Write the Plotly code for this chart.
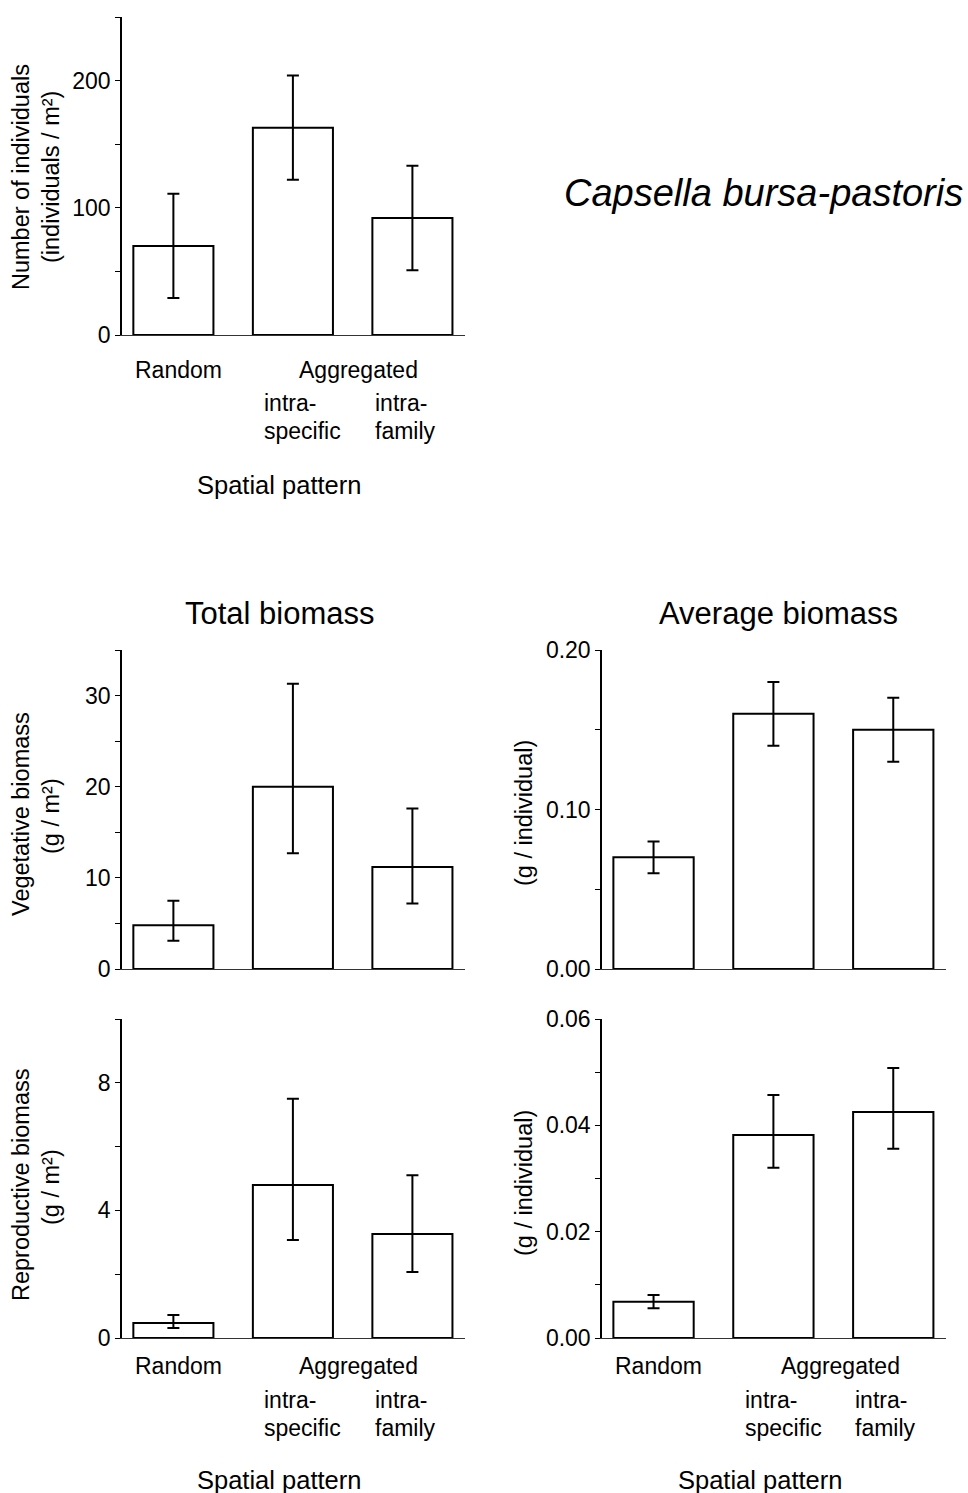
import plotly.graph_objects as go

W, H = 968, 1493

# ---------------- data ----------------
positions = [0, 1, 2]  # Random, Aggregated intra-specific, Aggregated intra-family

n_ind_mean = [70, 163, 92]
n_ind_upper = [111, 204, 133]
n_ind_lower = [29, 122, 51]

veg_total_mean = [4.8, 20.0, 11.2]
veg_total_upper = [7.5, 31.3, 17.6]
veg_total_lower = [3.1, 12.7, 7.2]

veg_avg_mean = [0.070, 0.160, 0.150]
veg_avg_upper = [0.080, 0.180, 0.170]
veg_avg_lower = [0.060, 0.140, 0.130]

rep_total_mean = [0.47, 4.8, 3.26]
rep_total_upper = [0.72, 7.5, 5.1]
rep_total_lower = [0.31, 3.07, 2.07]

rep_avg_mean = [0.0068, 0.0382, 0.0425]
rep_avg_upper = [0.0081, 0.0457, 0.0508]
rep_avg_lower = [0.0056, 0.0320, 0.0356]

FONT = "Liberation Sans, Arial, sans-serif"


def px_x(x):
    return x / W


def px_y(y):
    return 1 - y / H


fig = go.Figure()

panels = [
    # (axis suffix, mean, upper, lower, xdom px, ydom px (top,bottom), range, tickvals, ticktext, minor dtick)
    ("", n_ind_mean, n_ind_upper, n_ind_lower, (122, 465), (17, 335), [0, 250],
     [0, 100, 200], ["0", "100", "200"], 50),
    ("2", veg_total_mean, veg_total_upper, veg_total_lower, (122, 465), (650, 969), [0, 35],
     [0, 10, 20, 30], ["0", "10", "20", "30"], 5),
    ("3", veg_avg_mean, veg_avg_upper, veg_avg_lower, (602, 946), (650, 969), [0, 0.20],
     [0, 0.1, 0.2], ["0.00", "0.10", "0.20"], 0.05),
    ("4", rep_total_mean, rep_total_upper, rep_total_lower, (122, 465), (1019, 1338), [0, 10],
     [0, 4, 8], ["0", "4", "8"], 2),
    ("5", rep_avg_mean, rep_avg_upper, rep_avg_lower, (602, 946), (1019, 1338), [0, 0.06],
     [0, 0.02, 0.04, 0.06], ["0.00", "0.02", "0.04", "0.06"], 0.01),
]

layout_axes = {}
for suf, mean, upper, lower, xd, yd, rng, tv, tt, mdt in panels:
    plus = [u - m for u, m in zip(upper, mean)]
    minus = [m - l for m, l in zip(mean, lower)]
    fig.add_trace(go.Bar(
        x=positions, y=mean, width=0.67,
        marker=dict(color="white", line=dict(color="black", width=2)),
        error_y=dict(type="data", symmetric=False, array=plus, arrayminus=minus,
                     color="black", thickness=2, width=6),
        xaxis="x" + suf, yaxis="y" + suf, showlegend=False, hoverinfo="skip",
    ))
    layout_axes["xaxis" + suf] = dict(
        domain=[px_x(xd[0]), px_x(xd[1])], range=[-0.43, 2.44],
        showline=True, linecolor="#333333", linewidth=1,
        showticklabels=False, ticks="", showgrid=False, zeroline=False,
        anchor="y" + suf, fixedrange=True,
    )
    layout_axes["yaxis" + suf] = dict(
        domain=[px_y(yd[1]), px_y(yd[0])], range=rng,
        showline=True, linecolor="black", linewidth=1.5,
        tickvals=tv, ticktext=tt, ticks="outside", ticklen=5, tickwidth=1,
        tickcolor="black",
        minor=dict(dtick=mdt, tick0=0, ticks="outside", ticklen=5, tickwidth=1, tickcolor="black"),
        tickfont=dict(family=FONT, size=23, color="black"),
        showgrid=False, zeroline=False, anchor="x" + suf, fixedrange=True,
    )

annotations = []


def ann(text, x, y, size=23, angle=0, xanchor="center", italic=False):
    annotations.append(dict(
        text=("<i>%s</i>" % text) if italic else text,
        x=px_x(x), y=px_y(y), xref="paper", yref="paper",
        xanchor=xanchor, yanchor="middle", showarrow=False, textangle=angle,
        font=dict(family=FONT, size=size, color="black"),
    ))


# Title / headings
ann("Capsella bursa-pastoris", 763, 193, size=38, italic=True)
ann("Total biomass", 280, 613, size=31)
ann("Average biomass", 778, 613, size=31)

# Y-axis titles
ann("Number of individuals", 21, 177, size=23.5, angle=-90)
ann("(individuals / m²)", 51, 177, size=23.5, angle=-90)
ann("Vegetative biomass", 21, 814, size=23.5, angle=-90)
ann("(g / m²)", 51, 816, size=23.5, angle=-90)
ann("(g / individual)", 524, 813, size=23.5, angle=-90)
ann("Reproductive biomass", 21, 1185, size=23.5, angle=-90)
ann("(g / m²)", 51, 1187, size=23.5, angle=-90)
ann("(g / individual)", 524, 1183, size=23.5, angle=-90)


# Category labels under panels
def cat_labels(x_random, x_agg, x_intra1, x_intra2, x_spatial, y_row1, y_row2, y_row3, y_sp):
    ann("Random", x_random, y_row1)
    ann("Aggregated", x_agg, y_row1)
    ann("intra-", x_intra1, y_row2, xanchor="left")
    ann("specific", x_intra1, y_row3, xanchor="left")
    ann("intra-", x_intra2, y_row2, xanchor="left")
    ann("family", x_intra2, y_row3, xanchor="left")
    ann("Spatial pattern", x_spatial, y_sp, size=25.5)


cat_labels(178, 358, 262, 373, 279, 370, 403, 431, 485)
cat_labels(178, 358, 262, 373, 279, 1366, 1400, 1428, 1480)
cat_labels(658, 840, 743, 853, 760, 1366, 1400, 1428, 1480)

fig.update_layout(
    width=W, height=H,
    margin=dict(l=0, r=0, t=0, b=0, autoexpand=False),
    paper_bgcolor="white", plot_bgcolor="white",
    bargap=0.33,
    annotations=annotations,
    font=dict(family=FONT, color="black"),
    **layout_axes,
)

fig.write_html("out.html")
